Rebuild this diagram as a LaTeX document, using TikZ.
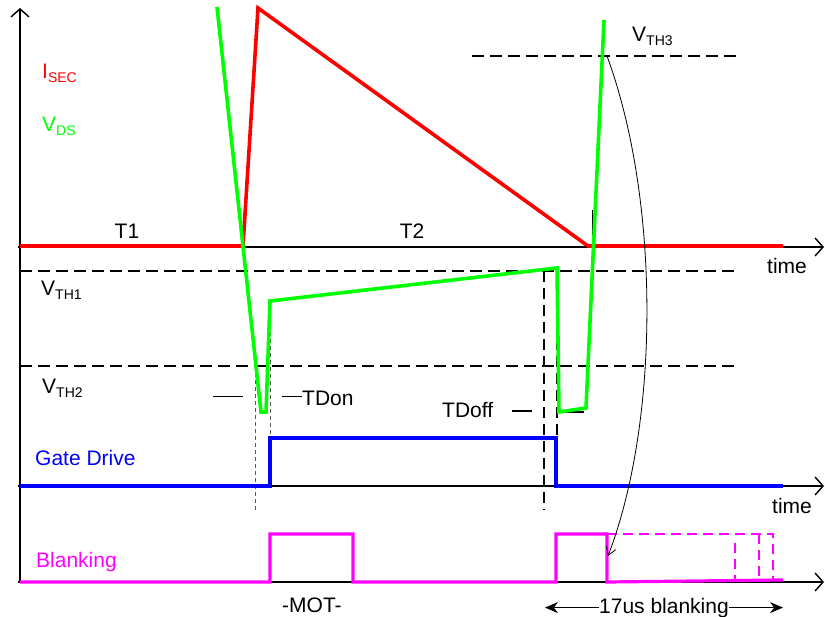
\documentclass[tikz,border=0pt]{standalone}
\usepackage{fontspec}
\setmainfont{Liberation Sans}
\usetikzlibrary{arrows.meta}
\definecolor{isecred}{RGB}{255,0,0}
\definecolor{vdsgreen}{RGB}{0,255,0}
\definecolor{gateblue}{RGB}{0,0,255}
\definecolor{blankmag}{RGB}{255,0,255}
\newcommand{\lsub}[1]{\raisebox{-0.3ex}{\fontsize{14}{14}\selectfont #1}}

\begin{document}
\begin{tikzpicture}[x=1pt,y=-1pt,font=\fontsize{21}{25}\selectfont,
  axis/.style={line width=1.4pt,-{Straight Barb[length=8pt,width=18pt]}},
  thr/.style={line width=1.6pt,dash pattern=on 12pt off 6pt},
  wave/.style={line width=3.6pt,line join=miter},
  lbl/.style={anchor=base west,inner sep=0pt}]
  \useasboundingbox (0,0) rectangle (825,617);
  % axes
  \draw[axis] (20,582) -- (20,8);
  \draw[axis] (18,247) -- (824,247);
  \draw[axis] (18,486) -- (824,486);
  \draw[axis] (18,582) -- (824,582);
  % threshold levels
  \draw[thr] (20,271) -- (737,271);
  \draw[thr] (20,366) -- (737,366);
  \draw[thr] (472,56) -- (737,56);
  % timing markers
  \draw[gray!70!black,line width=0.9pt,dash pattern=on 4pt off 3pt] (255,366) -- (255,510);
  \draw[gray!70!black,line width=0.9pt,dash pattern=on 4pt off 3pt] (270,325) -- (270,438);
  \draw[line width=1.8pt,dash pattern=on 11pt off 6pt] (544,271) -- (544,510);
  \draw[line width=1.8pt,dash pattern=on 11pt off 6pt] (557,271) -- (557,492);
  \draw[line width=0.9pt] (592,210) -- (592,246);
  \draw[line width=1.8pt] (560,412) -- (584,412);
  % secondary current and drain voltage
  \draw[wave,isecred] (20,246) -- (243,246) -- (258,8) -- (588,246) -- (783,246);
  \draw[wave,vdsgreen] (217,7) -- (261,412) -- (266,412) -- (270,301) -- (557,268)
     -- (559,412) -- (586,408) -- (604,20);
  % gate drive and blanking
  \draw[wave,gateblue] (20,486) -- (270,486) -- (270,438) -- (556,438) -- (556,486) -- (783,486);
  \draw[wave,blankmag,line width=3.2pt] (20,582) -- (270,582) -- (270,534) -- (353,534)
     -- (353,582) -- (556,582) -- (556,534) -- (607,534) -- (607,582) -- (783,580);
  \draw[blankmag,line width=1.8pt,dash pattern=on 10pt off 6pt] (607,534) -- (773,534) -- (773,580);
  \draw[blankmag,line width=1.8pt,dash pattern=on 10pt off 6pt] (759,534) -- (759,580);
  \draw[blankmag,line width=1.8pt,dash pattern=on 10pt off 6pt] (735,543) -- (735,580);
  % labels
  \node[lbl,isecred] (isec) at (42,79) {I\lsub{SEC}};
  \node[lbl,vdsgreen] (vds) at (42,132) {V\lsub{DS}};
  \node[lbl] (vth1) at (41,296) {V\lsub{TH1}};
  \node[lbl] (vth2) at (42,394) {V\lsub{TH2}};
  \node[lbl] (vth3) at (632,42) {V\lsub{TH3}};
  \node[anchor=base,inner sep=0pt] (t1) at (127,239) {T1};
  \node[anchor=base,inner sep=0pt] (t2) at (412,239) {T2};
  \node[lbl] (time1) at (767,274) {time};
  \node[lbl] (time2) at (772,513) {time};
  \node[lbl,gateblue] (gate) at (35,466) {Gate Drive};
  \node[lbl,blankmag] (blnk) at (36,567) {Blanking};
  \node[lbl] (tdon) at (302,406) {TDon};
  \draw[line width=0.9pt] (213,396) -- (243,396);
  \draw[line width=0.9pt] (282,396) -- (tdon.west |- 0,396);
  \node[lbl] (tdoff) at (442,418) {TDoff};
  \draw[line width=1.6pt] (512,411) -- (532,411);
  \node[lbl] (mot) at (282,612) {-MOT-};
  % blanking window
  \node[anchor=base,inner sep=0pt] (win) at (664,613) {17us blanking};
  \coordinate (wl) at (545,606);
  \coordinate (wr) at (783,606);
  \draw[line width=0.8pt,-{Stealth[length=13pt,width=11pt]}] (win.west) -- (win.west -| wl);
  \draw[line width=0.8pt,-{Stealth[length=13pt,width=11pt]}] (win.east) -- (win.east -| wr);
  % threshold 3 to end of blanking
  \coordinate (v3) at (607,56);
  \coordinate (bend) at (608,556);
  \draw[line width=0.8pt,-{Straight Barb[length=8pt,width=10pt]}] (v3)
     .. controls (660,200) and (660,420) .. (bend);
\end{tikzpicture}
\end{document}
